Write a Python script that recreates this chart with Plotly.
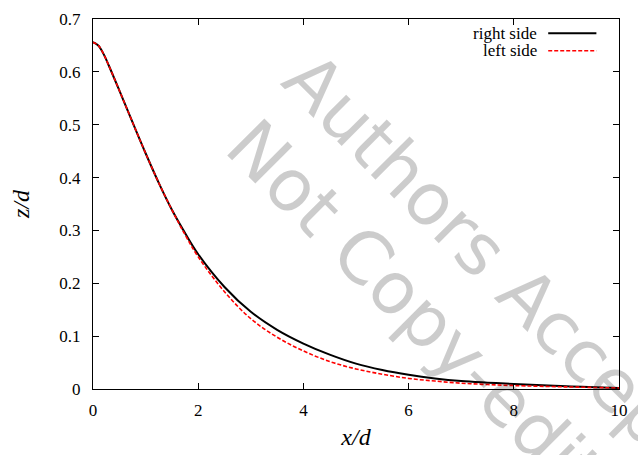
import plotly.graph_objects as go

# ---- data ----
x_right = [0, 0.1, 0.2, 0.3, 0.5, 0.8, 1.0, 1.25, 1.5, 1.75, 2.0, 2.5, 3.0, 3.5, 4.0, 4.5, 5.0, 5.5, 6.0, 6.5, 7.0, 7.5, 8.0, 9.0, 10.0]
z_right = [0.656, 0.650, 0.634, 0.612, 0.565, 0.493, 0.446, 0.390, 0.339, 0.295, 0.255, 0.193, 0.146, 0.112, 0.086, 0.065, 0.048, 0.036, 0.027, 0.020, 0.015, 0.012, 0.0095, 0.005, 0.002]
x_left = [0, 0.1, 0.2, 0.3, 0.5, 0.8, 1.0, 1.25, 1.5, 1.75, 2.0, 2.5, 3.0, 3.5, 4.0, 4.5, 5.0, 5.5, 6.0, 6.5, 7.0, 7.5, 8.0, 9.0, 10.0]
z_left = [0.656, 0.650, 0.634, 0.612, 0.565, 0.493, 0.446, 0.390, 0.339, 0.292, 0.250, 0.184, 0.133, 0.098, 0.072, 0.052, 0.038, 0.028, 0.020, 0.015, 0.011, 0.0085, 0.0065, 0.004, 0.002]
series_names = ["right side", "left side"]
x_ticks = [0, 2, 4, 6, 8, 10]
y_ticks = [0, 0.1, 0.2, 0.3, 0.4, 0.5, 0.6, 0.7]
watermark = ["Authors Accepted Manuscript", "Not Copy-edited"]

W, H = 638, 455
L, R, T, B = 93, 10, 11, 65
PW, PH = W - L - R, H - T - B

def px(xpix):
    return (xpix - L) / PW

def py(ypix):
    return (H - B - ypix) / PH

SERIF = "Liberation Serif, Times New Roman, serif"

fig = go.Figure()
fig.add_trace(go.Scatter(x=x_right, y=z_right, mode="lines", name=series_names[0],
                         line=dict(color="black", width=2, shape="spline", smoothing=1.0)))
fig.add_trace(go.Scatter(x=x_left, y=z_left, mode="lines", name=series_names[1],
                         line=dict(color="#ff0000", width=1.6, dash="4px,2px", shape="spline", smoothing=1.0)))

axis_common = dict(showgrid=False, zeroline=False, showline=True, linecolor="black", linewidth=1,
                   mirror="ticks", ticks="inside", ticklen=6, tickcolor="black", tickwidth=1,
                   tickfont=dict(family=SERIF, size=17, color="black"))

fig.update_xaxes(range=[0, 10], tickvals=x_ticks, ticktext=[str(v) for v in x_ticks],
                 title=dict(text="<i>x/d</i>", font=dict(family=SERIF, size=24, color="black"), standoff=8),
                 ticklabelstandoff=6, **axis_common)
fig.update_yaxes(range=[0, 0.7], tickvals=y_ticks, ticktext=["0"] + [f"{v:.1f}" for v in y_ticks[1:]],
                 title=dict(text="<i>z/d</i>", font=dict(family=SERIF, size=24, color="black"), standoff=22),
                 ticklabelstandoff=8, **axis_common)

annotations = []
shapes = []
# manual legend (text left of sample line)
leg_y = [25.5, 43.5]
leg_styles = [dict(color="black", width=2), dict(color="#ff0000", width=1.6, dash="4px,2px")]
for name, yy, st in zip(series_names, leg_y, leg_styles):
    annotations.append(dict(x=px(547), y=py(yy), xref="paper", yref="paper", text=name, showarrow=False,
                            xanchor="right", yanchor="middle",
                            font=dict(family=SERIF, size=17, color="black")))
    shapes.append(dict(type="line", xref="paper", yref="paper", x0=px(556), x1=px(605),
                       y0=py(yy), y1=py(yy), line=st))

# watermark
wm_centers = [(681, 442), (453, 340)]
for txt, (cx, cy) in zip(watermark, wm_centers):
    annotations.append(dict(x=px(cx), y=py(cy), xref="paper", yref="paper", text=txt, showarrow=False,
                            textangle=45, xanchor="center", yanchor="middle",
                            font=dict(family="DejaVu Sans, sans-serif", size=72,
                                      color="rgba(0,0,0,0.2)")))

fig.update_layout(width=W, height=H, margin=dict(l=L, r=R, t=T, b=B),
                  paper_bgcolor="white", plot_bgcolor="white", showlegend=False,
                  annotations=annotations, shapes=shapes)

fig.write_html("out.html")
